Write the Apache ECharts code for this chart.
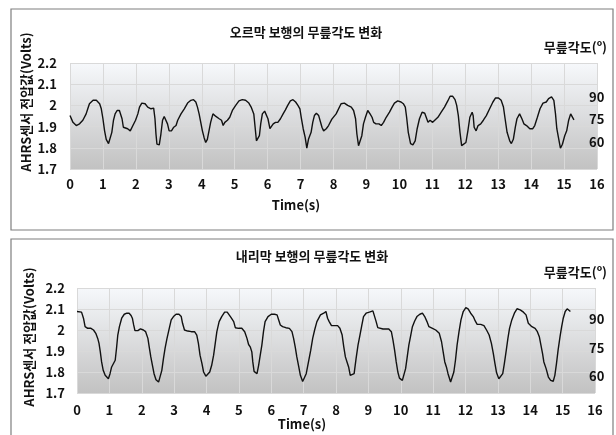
<!DOCTYPE html>
<html><head><meta charset="utf-8">
<script src="https://cdn.jsdelivr.net/npm/echarts@6/dist/echarts.min.js"></script>
<style>html,body{margin:0;padding:0;background:#fff}#c{width:616px;height:435px}</style>
</head><body><div id="c"></div>
<script>
// ---- data ----
const titleUp = '오르막 보행의 무릎각도 변화';
const titleDown = '내리막 보행의 무릎각도 변화';
const yNameLeft = 'AHRS센서 전압값(Volts)';
const yNameRight = '무릎각도(º)';
const xName = 'Time(s)';
const angleTicks = [60, 75, 90];

const upTime = [0.00,0.09,0.19,0.29,0.39,0.49,0.54,0.59,0.70,0.80,0.90,0.95,1.00,1.05,1.10,1.17,1.22,1.27,1.32,1.37,1.43,1.50,1.55,1.58,1.62,1.67,1.75,1.83,1.91,1.99,2.06,2.11,2.18,2.28,2.36,2.41,2.46,2.54,2.58,2.61,2.64,2.71,2.76,2.81,2.86,2.91,2.96,3.01,3.08,3.15,3.22,3.27,3.37,3.47,3.57,3.67,3.75,3.82,3.87,3.92,3.97,4.02,4.07,4.12,4.17,4.22,4.27,4.34,4.43,4.53,4.60,4.65,4.70,4.78,4.85,4.93,5.03,5.13,5.23,5.33,5.43,5.50,5.58,5.62,5.66,5.71,5.75,5.79,5.84,5.91,5.97,6.01,6.07,6.11,6.17,6.24,6.31,6.39,6.47,6.54,6.61,6.69,6.77,6.85,6.92,6.98,7.02,7.08,7.14,7.19,7.24,7.32,7.37,7.42,7.48,7.55,7.60,7.65,7.70,7.78,7.85,7.95,8.08,8.23,8.33,8.43,8.54,8.61,8.67,8.71,8.76,8.81,8.86,8.91,8.97,9.04,9.11,9.17,9.22,9.29,9.38,9.45,9.52,9.60,9.70,9.78,9.85,9.95,10.05,10.12,10.18,10.22,10.27,10.34,10.41,10.48,10.54,10.61,10.69,10.77,10.83,10.87,10.93,11.01,11.09,11.17,11.27,11.37,11.47,11.54,11.62,11.69,11.74,11.79,11.84,11.89,11.95,12.02,12.08,12.14,12.21,12.24,12.27,12.33,12.39,12.47,12.55,12.64,12.74,12.84,12.92,13.01,13.09,13.16,13.21,13.27,13.35,13.40,13.46,13.52,13.57,13.65,13.72,13.78,13.86,13.96,14.05,14.11,14.19,14.27,14.36,14.46,14.53,14.62,14.69,14.74,14.78,14.84,14.89,14.95,15.02,15.08,15.14,15.20,15.26,15.30];
const upVolt = [1.952,1.92,1.905,1.913,1.93,1.96,1.984,2.008,2.024,2.024,2.008,1.984,1.937,1.88,1.84,1.82,1.817,1.873,1.93,1.96,1.976,1.976,1.968,1.937,1.897,1.89,1.89,1.88,1.905,1.93,1.96,1.992,2.011,2.008,1.992,1.984,1.984,1.987,1.937,1.865,1.817,1.814,1.865,1.93,1.948,1.944,1.913,1.88,1.88,1.897,1.905,1.93,1.96,1.984,2.011,2.024,2.027,2.016,1.992,1.96,1.92,1.88,1.849,1.825,1.84,1.88,1.92,1.96,1.948,1.937,1.93,1.905,1.92,1.93,1.944,1.976,2.0,2.021,2.027,2.024,2.011,1.992,1.96,1.897,1.833,1.83,1.857,1.913,1.96,1.973,1.968,1.937,1.89,1.897,1.913,1.92,1.92,1.937,1.96,1.979,2.0,2.021,2.027,2.016,2.0,1.984,1.944,1.89,1.849,1.798,1.84,1.873,1.92,1.952,1.963,1.952,1.944,1.897,1.88,1.89,1.905,1.935,1.96,2.008,2.011,2.0,1.992,1.976,1.937,1.865,1.81,1.805,1.857,1.913,1.944,1.976,1.96,1.944,1.92,1.913,1.913,1.905,1.92,1.944,1.968,1.992,2.011,2.021,2.016,2.008,1.992,1.944,1.873,1.82,1.814,1.833,1.89,1.937,1.968,1.963,1.96,1.92,1.93,1.92,1.932,1.944,1.968,1.992,2.021,2.043,2.043,2.027,2.0,1.952,1.873,1.81,1.814,1.825,1.88,1.944,1.968,1.952,1.897,1.88,1.905,1.913,1.93,1.952,1.984,2.016,2.035,2.035,2.024,1.992,1.937,1.873,1.833,1.82,1.84,1.897,1.937,1.96,1.937,1.913,1.905,1.89,1.89,1.905,1.944,1.984,2.011,2.016,2.032,2.04,2.024,1.96,1.89,1.84,1.798,1.817,1.857,1.88,1.93,1.96,1.957,1.932];

const downTime = [0.00,0.14,0.20,0.25,0.33,0.43,0.51,0.58,0.64,0.68,0.72,0.76,0.81,0.87,0.92,0.97,1.02,1.07,1.12,1.18,1.22,1.26,1.31,1.38,1.46,1.54,1.61,1.67,1.71,1.75,1.79,1.88,1.96,2.05,2.12,2.19,2.23,2.28,2.33,2.38,2.44,2.52,2.57,2.62,2.67,2.72,2.78,2.85,2.91,2.98,3.06,3.15,3.22,3.26,3.32,3.42,3.53,3.63,3.70,3.75,3.80,3.86,3.91,3.98,4.04,4.10,4.16,4.22,4.27,4.32,4.39,4.47,4.56,4.64,4.70,4.76,4.84,4.89,4.99,5.09,5.18,5.25,5.30,5.35,5.40,5.43,5.47,5.56,5.61,5.66,5.71,5.76,5.81,5.90,6.00,6.10,6.18,6.23,6.28,6.35,6.45,6.56,6.64,6.69,6.74,6.79,6.85,6.90,6.97,7.03,7.08,7.15,7.22,7.28,7.34,7.41,7.52,7.62,7.69,7.74,7.79,7.86,7.98,8.05,8.12,8.19,8.24,8.29,8.34,8.39,8.44,8.50,8.56,8.62,8.68,8.74,8.80,8.85,8.93,9.03,9.14,9.19,9.24,9.29,9.45,9.63,9.71,9.76,9.81,9.86,9.91,9.96,10.05,10.10,10.15,10.20,10.25,10.31,10.36,10.43,10.50,10.59,10.67,10.74,10.81,10.87,10.98,11.08,11.19,11.26,11.31,11.36,11.41,11.46,11.54,11.59,11.64,11.69,11.74,11.80,11.86,11.93,12.01,12.08,12.16,12.24,12.30,12.36,12.47,12.57,12.65,12.73,12.80,12.86,12.91,12.96,13.03,13.09,13.15,13.20,13.26,13.31,13.36,13.43,13.51,13.59,13.69,13.79,13.87,13.94,14.05,14.15,14.22,14.28,14.33,14.38,14.42,14.49,14.56,14.63,14.71,14.76,14.81,14.86,14.92,14.97,15.02,15.08,15.14,15.20,15.24];
const downVolt = [2.088,2.085,2.056,2.016,2.008,2.008,2.0,1.984,1.96,1.936,1.896,1.848,1.808,1.784,1.776,1.768,1.792,1.824,1.832,1.856,1.912,1.976,2.016,2.056,2.075,2.08,2.08,2.069,2.056,2.024,1.997,1.997,2.005,2.0,1.992,1.96,1.92,1.872,1.832,1.792,1.763,1.752,1.752,1.808,1.864,1.912,1.96,2.008,2.048,2.064,2.075,2.075,2.064,2.032,2.0,1.995,1.992,1.992,1.976,1.936,1.88,1.84,1.8,1.78,1.771,1.8,1.832,1.88,1.936,1.992,2.04,2.064,2.085,2.085,2.072,2.059,2.04,2.011,2.008,2.008,1.992,1.96,1.931,1.92,1.896,1.848,1.803,1.792,1.832,1.88,1.928,1.992,2.04,2.064,2.075,2.075,2.072,2.048,2.024,2.016,2.011,2.008,1.992,1.96,1.92,1.872,1.824,1.784,1.755,1.763,1.792,1.848,1.904,1.96,2.0,2.04,2.072,2.08,2.088,2.056,2.04,2.021,2.021,2.021,2.008,1.976,1.92,1.872,1.848,1.824,1.784,1.776,1.792,1.864,1.928,1.976,2.024,2.064,2.08,2.085,2.091,2.096,2.04,2.011,2.005,2.005,1.992,1.952,1.904,1.848,1.8,1.771,1.76,1.768,1.816,1.872,1.928,1.976,2.016,2.043,2.064,2.075,2.08,2.064,2.04,2.016,2.008,2.0,1.984,1.944,1.896,1.848,1.824,1.792,1.752,1.76,1.8,1.856,1.928,1.992,2.048,2.088,2.107,2.101,2.08,2.064,2.043,2.027,2.027,2.021,2.0,1.976,1.936,1.888,1.84,1.796,1.768,1.776,1.792,1.84,1.904,1.96,2.008,2.048,2.08,2.101,2.096,2.085,2.072,2.032,2.016,2.008,1.992,1.968,1.928,1.888,1.848,1.816,1.776,1.76,1.756,1.784,1.84,1.904,1.968,2.016,2.056,2.088,2.101,2.096,2.088];

// ---- chart ----
const zip = (a, b) => a.map((t, i) => [t, b[i]]);
const FONT = '"Noto Sans CJK KR", "Noto Sans", sans-serif';
const TXT = '#111';
const bg = () => new echarts.graphic.LinearGradient(0, 0, 0, 1, [
  { offset: 0, color: '#f6f8fb' }, { offset: 1, color: '#c2c2c2' }
]);
const gridLine = { show: true, lineStyle: { color: '#d9d9d9', width: 1 } };
const lbl = (extra) => Object.assign({ color: TXT, fontFamily: FONT, fontWeight: 'bold', fontSize: 13 }, extra);

function xAx(gi, margin) {
  return { type: 'value', gridIndex: gi, min: 0, max: 16, interval: 1,
    axisLine: { show: false }, axisTick: { show: false }, splitLine: gridLine,
    axisLabel: lbl({ margin: margin, fontSize: 13 }) };
}
function yLeft(gi, margin) {
  return { type: 'value', gridIndex: gi, min: 1.7, max: 2.2, interval: 0.1, position: 'left',
    axisLine: { show: false }, axisTick: { show: false }, splitLine: gridLine,
    axisLabel: lbl({ margin: margin, formatter: v => String(+v.toFixed(1)) }) };
}
function yRight(gi, mn, mx, margin) {
  return { type: 'value', gridIndex: gi, min: mn, max: mx, position: 'right',
    axisLine: { show: false }, axisTick: { show: false }, splitLine: { show: false },
    axisLabel: lbl({ margin: margin, customValues: angleTicks }) };
}
function txt(text, x, y, align, extra) {
  return Object.assign({ type: 'text', x: x, y: y, silent: true,
    style: { text: text, fill: TXT, font: 'bold 13px ' + FONT, textAlign: align, textVerticalAlign: 'middle' } }, extra || {});
}

const chart = echarts.init(document.getElementById('c'), null, { renderer: 'canvas' });
chart.setOption({
  animation: false,
  backgroundColor: '#fff',
  grid: [
    { left: 70, top: 63, width: 527, height: 106, show: true, backgroundColor: bg(), borderWidth: 0 },
    { left: 77, top: 288, width: 518, height: 105, show: true, backgroundColor: bg(), borderWidth: 0 }
  ],
  xAxis: [xAx(0, 9), xAx(1, 11)],
  yAxis: [yLeft(0, 13), yRight(0, 41.8, 112.5, -8), yLeft(1, 12), yRight(1, 50.8, 106.8, -6)],
  series: [
    { type: 'line', xAxisIndex: 0, yAxisIndex: 0, data: zip(upTime, upVolt), showSymbol: false,
      lineStyle: { color: '#111', width: 1.4 } },
    { type: 'line', xAxisIndex: 1, yAxisIndex: 2, data: zip(downTime, downVolt), showSymbol: false,
      lineStyle: { color: '#111', width: 1.4 } }
  ],
  graphic: [
    { type: 'rect', shape: { x: 11, y: 9, width: 602, height: 221 }, style: { fill: 'none', stroke: '#7f7f7f', lineWidth: 1.2 }, silent: true },
    { type: 'rect', shape: { x: 11, y: 239, width: 602, height: 230 }, style: { fill: 'none', stroke: '#7f7f7f', lineWidth: 1.2 }, silent: true },
    txt(titleUp, 306, 32, 'center'),
    txt(yNameRight, 607, 47, 'right'),
    txt(yNameLeft, 26, 102, 'center', { rotation: Math.PI / 2 }),
    txt(xName, 296, 205, 'center'),
    txt(titleDown, 312, 256, 'center'),
    txt(yNameRight, 607, 272, 'right'),
    txt(yNameLeft, 29, 337, 'center', { rotation: Math.PI / 2 }),
    txt(xName, 302, 424, 'center')
  ]
});
</script>
</body></html>
